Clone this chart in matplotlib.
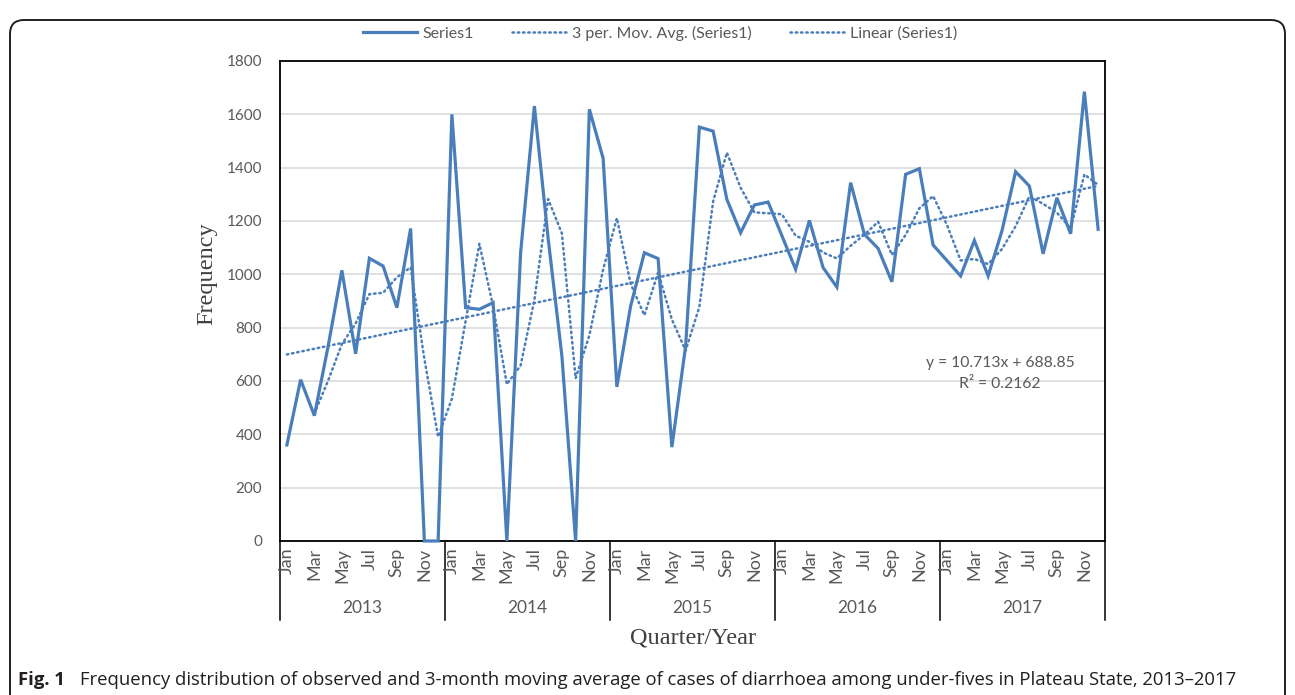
"""
Monthly diarrhoea cases among under-fives, Plateau State 2013-2017,
with a 3-month moving average and a linear trend line (Excel style chart).
"""

import matplotlib
matplotlib.use("Agg")
import matplotlib.pyplot as plt
import matplotlib.transforms as mtransforms
import numpy as np
import pandas as pd
from matplotlib.lines import Line2D
from matplotlib.patches import FancyBboxPatch

# ---- data ----
years = ["2013", "2014", "2015", "2016", "2017"]
months = ["Jan", "Feb", "Mar", "Apr", "May", "Jun",
          "Jul", "Aug", "Sep", "Oct", "Nov", "Dec"]
shown_months = ["Jan", "Mar", "May", "Jul", "Sep", "Nov"]

cases_2013 = [360, 605, 470, 730, 1015, 702, 1060, 1031, 875, 1172, 0, 0]
cases_2014 = [1600, 875, 869, 894, 0, 1081, 1631, 1135, 695, 0, 1619, 1435]
cases_2015 = [578, 881, 1081, 1059, 352, 731, 1552, 1537, 1281, 1156, 1260, 1271]
cases_2016 = [1145, 1019, 1202, 1025, 952, 1344, 1150, 1097, 972, 1375, 1396, 1110]
cases_2017 = [1052, 994, 1127, 994, 1162, 1385, 1331, 1077, 1287, 1152, 1685, 1169]

# trend line coefficients as printed on the chart
trend_slope = 10.713
trend_intercept = 688.85
trend_r2 = 0.2162

y_ticks = [0, 200, 400, 600, 800, 1000, 1200, 1400, 1600, 1800]

series = pd.Series(cases_2013 + cases_2014 + cases_2015 + cases_2016 + cases_2017)
x = np.arange(1, len(series) + 1)
mov_avg = series.rolling(3).mean()
trend = trend_intercept + trend_slope * x

BLUE = "#4a7ebb"
GREY = "#595959"
CALIBRI = ["Lato", "DejaVu Sans"]
NARROW = ["Liberation Sans Narrow", "Lato", "DejaVu Sans"]
SERIF = ["Liberation Serif", "DejaVu Serif"]
DOTS = (0, (0.6, 1.5))

W, H = 1295, 695
fig = plt.figure(figsize=(W / 100, H / 100), dpi=100)

# plot area in pixel terms: x 280..1105, y 61..541
ax = fig.add_axes([280 / W, 1 - 541 / H, (1105 - 280) / W, (541 - 61) / H])

ax.plot(x, series, color=BLUE, lw=2.3, solid_joinstyle="miter", clip_on=False, zorder=4)
ax.plot(x, mov_avg, color=BLUE, lw=1.8, linestyle=DOTS, dash_capstyle="round", zorder=3)
ax.plot(x, trend, color=BLUE, lw=1.8, linestyle=DOTS, dash_capstyle="round", zorder=3)

ax.set_xlim(0.5, len(series) + 0.5)
ax.set_ylim(0, 1800)
ax.set_yticks(y_ticks)
ax.set_yticklabels([str(v) for v in y_ticks], family=CALIBRI, fontsize=11, color=GREY)
ax.tick_params(axis="y", length=0, pad=13)
ax.set_xticks([])
ax.grid(axis="y", color="#d9d9d9", lw=1.1)
ax.set_axisbelow(True)
for side in ax.spines.values():
    side.set_color("black")
    side.set_linewidth(1.3)

# multi-level category axis: months (every other) + years
blend = mtransforms.blended_transform_factory(ax.transData, ax.transAxes)
for i, (yr, m) in enumerate([(yr, m) for yr in years for m in months]):
    if m in shown_months:
        ax.text(i + 1, -0.014, m, transform=blend, rotation=90, ha="center", va="top",
                family=CALIBRI, fontsize=13, color=GREY)
sep_bottom = -(620 - 541) / 480
for k in range(len(years) + 1):
    ax.plot([0.5 + 12 * k] * 2, [0, sep_bottom], transform=blend, color="black",
            lw=1.1, clip_on=False)
for k, yr in enumerate(years):
    ax.text(6.5 + 12 * k, -(608 - 541) / 480, yr, transform=blend, ha="center",
            va="center", family=NARROW, fontsize=12.5, color=GREY)

# axis titles
fig.text(207 / W, 1 - 274 / H, "Frequency", rotation=90, ha="center", va="center",
         family=SERIF, fontsize=17.5, color="#404040")
fig.text(693 / W, 1 - 638 / H, "Quarter/Year", ha="center", va="center",
         family=SERIF, fontsize=17.5, color="#404040")

# trend line equation
fig.text(1000 / W, 1 - 363 / H, f"y = {trend_slope}x + {trend_intercept}",
         ha="center", va="center", family=CALIBRI, fontsize=11.3, color=GREY)
fig.text(1000 / W, 1 - 384 / H, f"R² = {trend_r2}",
         ha="center", va="center", family=CALIBRI, fontsize=11.3, color=GREY)

# legend
handles = [
    Line2D([0], [0], color=BLUE, lw=2.3, label="Series1"),
    Line2D([0], [0], color=BLUE, lw=1.8, linestyle=DOTS, dash_capstyle="round",
           label="3 per. Mov. Avg. (Series1)"),
    Line2D([0], [0], color=BLUE, lw=1.8, linestyle=DOTS, dash_capstyle="round",
           label="Linear (Series1)"),
]
fig.legend(handles=handles, loc="center", bbox_to_anchor=(660 / W, 1 - 33 / H), ncol=3,
           frameon=False, prop={"family": CALIBRI, "size": 11.5}, labelcolor=GREY,
           handlelength=3.4, handletextpad=0.35, columnspacing=2.4)

# rounded frame round the figure (open at the bottom)
frame = FancyBboxPatch((10, -30), W - 20, H - 10 + 30 - 10,
                       boxstyle="round,pad=0,rounding_size=14",
                       transform=mtransforms.IdentityTransform(),
                       facecolor="none", edgecolor="#231f20", lw=1.4)
fig.add_artist(frame)

# caption
fig.text(18 / W, 1 - 680 / H, "Fig. 1", ha="left", va="center", fontweight="bold",
         family=["Open Sans", "DejaVu Sans"], fontsize=13.3, color="#231f20")
fig.text(80 / W, 1 - 680 / H,
         "Frequency distribution of observed and 3-month moving average of cases of "
         "diarrhoea among under-fives in Plateau State, 2013–2017",
         ha="left", va="center", family=["Open Sans", "DejaVu Sans"], fontsize=13.3,
         color="#231f20")

fig.savefig("out.png", dpi=100)
